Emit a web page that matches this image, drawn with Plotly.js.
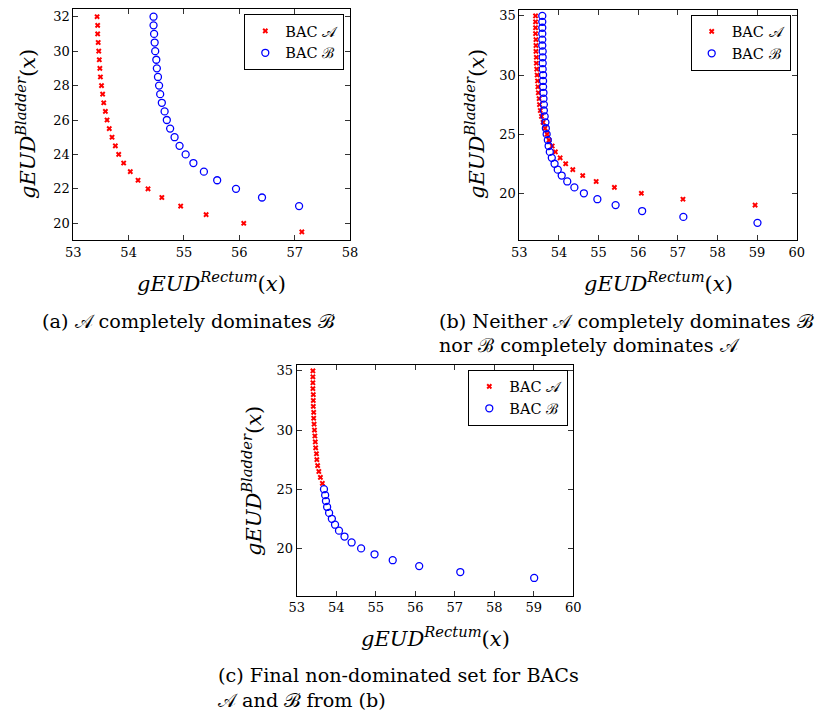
<!DOCTYPE html>
<html>
<head>
<meta charset="utf-8">
<script src="https://cdn.plot.ly/plotly-3.0.1.min.js"></script>
<style>html,body{margin:0;padding:0;background:#fff;} #chart{width:823px;height:711px;}</style>
</head>
<body>
<div id="chart"></div>
<script>
// ---- Data ----
// Panel (a): A completely dominates B
const aAy = [32,31.5,31,30.5,30,29.5,29,28.5,28,27.5,27,26.5,26,25.5,25,24.5,24,23.5,23,22.5,22,21.5,21,20.5,20,19.5];
const aAx = [53.43,53.44,53.44,53.45,53.46,53.47,53.48,53.49,53.51,53.53,53.55,53.58,53.61,53.65,53.70,53.76,53.82,53.91,54.03,54.17,54.35,54.60,54.94,55.40,56.08,57.13];
const aBy = [32,31.5,31,30.5,30,29.5,29,28.5,28,27.5,27,26.5,26,25.5,25,24.5,24,23.5,23,22.5,22,21.5,21];
const aBx = [54.45,54.45,54.46,54.47,54.48,54.50,54.51,54.53,54.55,54.57,54.60,54.65,54.69,54.75,54.83,54.92,55.03,55.17,55.36,55.60,55.94,56.41,57.08];

// Panel (b): neither dominates
const bAy = [35,34.5,34,33.5,33,32.5,32,31.5,31,30.5,30,29.5,29,28.5,28,27.5,27,26.5,26,25.5,25,24.5,24,23.5,23,22.5,22,21.5,21,20.5,20,19.5,19];
const bAx = [53.41,53.41,53.41,53.41,53.42,53.42,53.42,53.43,53.43,53.44,53.45,53.46,53.47,53.48,53.50,53.51,53.53,53.56,53.60,53.65,53.70,53.75,53.83,53.91,54.03,54.17,54.35,54.60,54.94,55.40,56.08,57.13,58.95];
const bBy = [35,34.5,34,33.5,33,32.5,32,31.5,31,30.5,30,29.5,29,28.5,28,27.5,27,26.5,26,25.5,25,24.5,24,23.5,23,22.5,22,21.5,21,20.5,20,19.5,19,18.5,18,17.5];
const bBx = [53.58,53.58,53.58,53.58,53.58,53.58,53.59,53.59,53.59,53.59,53.60,53.60,53.60,53.61,53.61,53.62,53.62,53.64,53.66,53.67,53.69,53.72,53.74,53.77,53.82,53.89,53.97,54.07,54.21,54.39,54.63,54.97,55.43,56.10,57.14,59.01];

// Panel (c): final non-dominated set (A above 25, B from 25 down)
const cAx = bAx.slice(0, 20), cAy = bAy.slice(0, 20);
const cBx = bBx.slice(20),    cBy = bBy.slice(20);

const xTicksA = [53,54,55,56,57,58];
const xTicksBC = [53,54,55,56,57,58,59,60];
const yTicksA = [20,22,24,26,28,30,32];
const yTicksBC = [20,25,30,35];

const SA = '\u{1D49C}', SB = '\u212C';
const legA = 'BAC ' + SA, legB = 'BAC ' + SB;

// ---- Styling ----
const FONT = 'DejaVu Serif';
const W = 823, H = 711;
const px = v => v / W, py = v => 1 - v / H;

function axis(domain, range, ticks, anchor) {
  return {
    domain: domain, range: range, anchor: anchor,
    tickvals: ticks, ticktext: ticks.map(String),
    showline: true, mirror: 'ticks', linecolor: '#000', linewidth: 1,
    ticks: 'inside', ticklen: 5, tickcolor: '#333', tickwidth: 1,
    showgrid: false, zeroline: false, fixedrange: true,
    tickfont: {family: FONT, size: 13, color: '#000'}
  };
}

function ptsA(x, y, xa, ya, leg) {
  return {x: x, y: y, xaxis: xa, yaxis: ya, legend: leg, name: legA, type: 'scatter', mode: 'markers',
          marker: {symbol: 'x', size: 5, color: '#ff0000', line: {width: 0}}};
}
function ptsB(x, y, xa, ya, leg) {
  return {x: x, y: y, xaxis: xa, yaxis: ya, legend: leg, name: legB, type: 'scatter', mode: 'markers',
          marker: {symbol: 'circle-open', size: 7, color: '#0000ff', line: {width: 1.3, color: '#0000ff'}}};
}

const data = [
  ptsA(aAx, aAy, 'x', 'y', 'legend'),  ptsB(aBx, aBy, 'x', 'y', 'legend'),
  ptsA(bAx, bAy, 'x2', 'y2', 'legend2'), ptsB(bBx, bBy, 'x2', 'y2', 'legend2'),
  ptsA(cAx, cAy, 'x3', 'y3', 'legend3'), ptsB(cBx, cBy, 'x3', 'y3', 'legend3')
];

function legend(xr, yt) {
  return {x: px(xr), y: py(yt), xanchor: 'right', yanchor: 'top', bgcolor: '#fff',
          bordercolor: '#000', borderwidth: 1, font: {family: FONT, size: 14.5, color: '#000'},
          itemwidth: 30, tracegroupgap: 0};
}

const xTitle = '<i>gEUD</i><sup><i>Rectum</i></sup>(<i>x</i>)';
const yTitle = '<i>gEUD</i><sup><i>Bladder</i></sup>(<i>x</i>)';
function ann(text, x, y, opts) {
  return Object.assign({text: text, x: px(x), y: py(y), xref: 'paper', yref: 'paper',
    showarrow: false, xanchor: 'center', yanchor: 'middle',
    font: {family: FONT, size: 21, color: '#000'}}, opts || {});
}
const capFont = {family: FONT, size: 19.2, color: '#000'};

const layout = {
  width: W, height: H, margin: {l: 0, r: 0, t: 0, b: 0},
  paper_bgcolor: '#fff', plot_bgcolor: '#fff', showlegend: true,
  font: {family: FONT, color: '#000'},
  xaxis:  axis([px(73.3), px(350)],  [53, 58], xTicksA, 'y'),
  yaxis:  axis([py(240), py(9.3)],   [19.03, 32.43], yTicksA, 'x'),
  xaxis2: axis([px(519.3), px(796.7)], [53, 60], xTicksBC, 'y2'),
  yaxis2: axis([py(240), py(10)],    [16.05, 35.5], yTicksBC, 'x2'),
  xaxis3: axis([px(296.7), px(573.3)], [53, 60], xTicksBC, 'y3'),
  yaxis3: axis([py(595.7), py(365)], [16.0, 35.5], yTicksBC, 'x3'),
  legend:  legend(344.3, 14),
  legend2: legend(790.7, 14.5),
  legend3: legend(568.3, 369.5),
  annotations: [
    ann(xTitle, 211.7, 282), ann(yTitle, 26, 124, {textangle: -90}),
    ann(xTitle, 658, 282),   ann(yTitle, 475, 124, {textangle: -90}),
    ann(xTitle, 435, 637),   ann(yTitle, 252, 481, {textangle: -90}),
    ann('(a) ' + SA + ' completely dominates ' + SB, 188.5, 321, {font: capFont}),
    ann('(b) Neither ' + SA + ' completely dominates ' + SB, 437, 321, {font: capFont, xanchor: 'left'}),
    ann('nor ' + SB + ' completely dominates ' + SA, 437, 345, {font: capFont, xanchor: 'left'}),
    ann('(c) Final non-dominated set for BACs', 215.7, 675, {font: capFont, xanchor: 'left'}),
    ann(SA + ' and ' + SB + ' from (b)', 215.7, 700, {font: capFont, xanchor: 'left'})
  ]
};

Plotly.newPlot('chart', data, layout, {staticPlot: true, displayModeBar: false});
</script>
</body>
</html>
